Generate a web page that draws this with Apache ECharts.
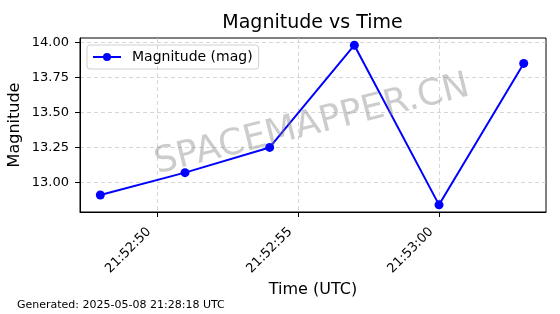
<!DOCTYPE html>
<html><head><meta charset="utf-8">
<script src="https://cdn.jsdelivr.net/npm/echarts@6/dist/echarts.min.js"></script>
<style>html,body{margin:0;padding:0;background:#fff}#c{width:560px;height:314px}</style>
</head><body><div id="c"></div>
<script>
// seconds after 21:52:00 UTC
const times = [48, 51, 54, 57, 60, 63];
const magnitudes = [12.91, 13.07, 13.25, 13.98, 12.84, 13.85];
const xTicks = [50, 55, 60];
const yTicks = [13.00, 13.25, 13.50, 13.75, 14.00];
const seriesName = 'Magnitude (mag)';
const titleText = 'Magnitude vs Time';
const xLabel = 'Time (UTC)';
const yLabel = 'Magnitude';
const footer = 'Generated: 2025-05-08 21:28:18 UTC';
const watermark = 'SPACEMAPPER.CN';

function fmtTime(s){
  const total = 21*3600 + 52*60 + Math.round(s);
  const h = Math.floor(total/3600), m = Math.floor((total%3600)/60), sec = total%60;
  const p = n => String(n).padStart(2,'0');
  return p(h)+':'+p(m)+':'+p(sec);
}
const F = 'DejaVu Sans';
const chart = echarts.init(document.getElementById('c'), null, {renderer:'canvas'});
chart.setOption({
  animation:false,
  textStyle:{fontFamily:F},
  legend:{data:[seriesName],left:87,top:45,itemWidth:28,itemHeight:10,
    padding:[5,6,5,5],borderColor:'#d0d0d0',borderWidth:1,borderRadius:3,
    textStyle:{fontFamily:F,fontSize:14,color:'#000',padding:[0,0,0,6]}},
  grid:{left:80,right:14,top:38,bottom:102,show:true,borderColor:'#000',borderWidth:1,containLabel:false,outerBoundsMode:'none'},
  xAxis:{type:'value',min:47.28,max:63.79,
    name:xLabel,nameLocation:'middle',nameGap:70,nameMoveOverlap:false,nameTextStyle:{fontFamily:F,fontSize:16,color:'#000'},
    axisLine:{show:true,lineStyle:{color:'#000'}},
    axisTick:{show:true,customValues:xTicks,length:5,lineStyle:{color:'#000'}},
    axisLabel:{customValues:xTicks,rotate:45,formatter:v=>fmtTime(v),fontFamily:F,fontSize:13,color:'#000',margin:10,padding:[0,11,0,0]},
    splitLine:{show:true,customValues:xTicks,lineStyle:{color:'#cccccc',type:[4,3],width:0.8}}},
  yAxis:{type:'value',min:12.789,max:14.0315,
    name:yLabel,nameLocation:'middle',nameGap:57,nameMoveOverlap:false,nameRotate:90,nameTextStyle:{fontFamily:F,fontSize:16,color:'#000'},
    axisLine:{show:true,lineStyle:{color:'#000'}},
    axisTick:{show:true,customValues:yTicks,length:5,lineStyle:{color:'#000'}},
    axisLabel:{customValues:yTicks,formatter:v=>v.toFixed(2),fontFamily:F,fontSize:13,color:'#000',margin:11},
    splitLine:{show:true,customValues:yTicks,lineStyle:{color:'#cccccc',type:[4,3],width:0.8}}},
  graphic:[
    {type:'text',x:312.5,y:23,style:{text:titleText,fontFamily:F,fontSize:19,fill:'#000',align:'center',verticalAlign:'middle'}},
    {type:'text',left:17,top:300,style:{text:footer,fontFamily:F,fontSize:11,fill:'#000'}},
    {type:'text',x:312,y:125,rotation:14*Math.PI/180,z:100,
      style:{text:watermark,fontFamily:F,fontSize:36,fill:'rgba(128,128,128,0.4)',align:'center',verticalAlign:'middle'}}
  ],
  series:[{name:seriesName,type:'line',data:times.map((t,i)=>[t,magnitudes[i]]),
    symbol:'circle',symbolSize:9,showSymbol:true,
    lineStyle:{color:'#0000ff',width:2},itemStyle:{color:'#0000ff'}}]
});
</script></body></html>
